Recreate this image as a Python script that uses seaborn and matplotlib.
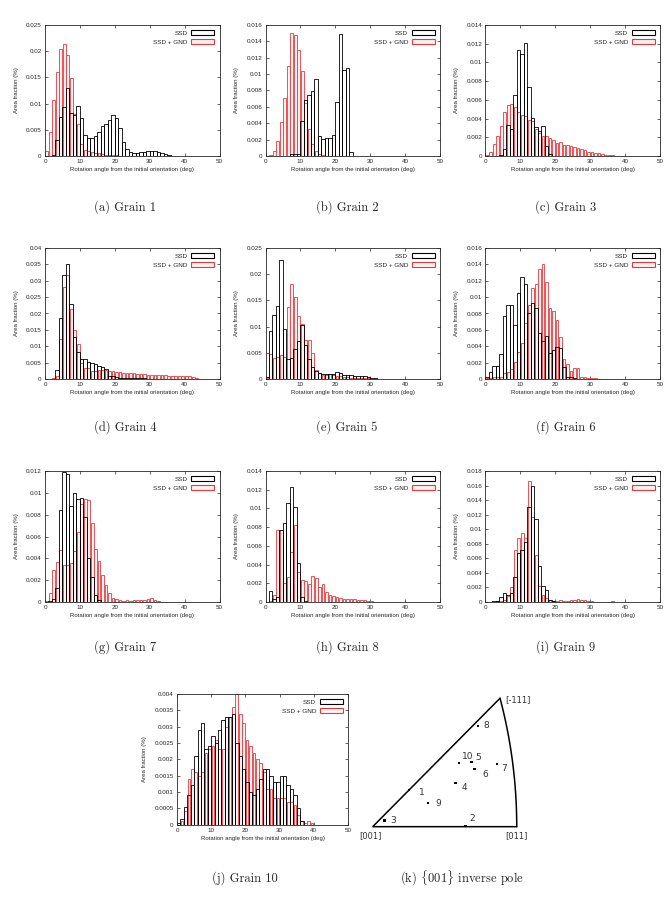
import numpy as np
import pandas as pd
import matplotlib
matplotlib.use('Agg')
import matplotlib.pyplot as plt
from matplotlib.patches import Patch
from matplotlib.ticker import MultipleLocator, FuncFormatter
import seaborn as sns

# 1 degree bins from 0 to 50, area fraction of each bin (trailing bins are zero)
bin_edges = list(range(0, 51))

ssd_g1 = [0, 0, 0.0002, 0.003, 0.0074, 0.0093, 0.013, 0.0082, 0.0078, 0.0095, 0.0072, 0.0041, 0.0034, 0.0034,
          0.0038, 0.0046, 0.0057, 0.0061, 0.0068, 0.0078, 0.0072, 0.0053, 0.0026, 0.0013, 0.0007, 0.0006, 0.0006,
          0.0007, 0.0007, 0.0009, 0.0009, 0.0009, 0.0007, 0.0005, 0.0003, 0.0001]
gnd_g1 = [0.001, 0.0046, 0.0106, 0.0161, 0.0205, 0.0213, 0.0193, 0.0148, 0.008, 0.0062, 0.0023, 0.0012, 0.001,
          0.0008, 0.0006, 0.0005, 0.0003, 0.0002, 0.0001, 0.0001, 0.0001]

ssd_g2 = [0, 0, 0, 0, 0, 0, 0, 0.0003, 0.0002, 0.0003, 0.0043, 0.0068, 0.0074, 0.0079, 0.0094, 0.0025, 0.0021,
          0.0022, 0.0022, 0.0026, 0.0066, 0.0149, 0.0105, 0.0108, 0.0005]
gnd_g2 = [0, 0.0001, 0.0006, 0.0018, 0.0042, 0.0071, 0.011, 0.015, 0.0148, 0.0129, 0.0104, 0.0065, 0.0033,
          0.0015, 0.0006, 0.0002, 0.0001]

ssd_g3 = [0, 0, 0, 0, 0.0001, 0.0008, 0.0033, 0.0029, 0.0065, 0.0113, 0.0109, 0.0121, 0.0074, 0.0041, 0.0031,
          0.0027, 0.0032, 0.0011, 0.0002]
gnd_g3 = [0.0001, 0.0004, 0.0013, 0.0021, 0.0032, 0.0047, 0.0055, 0.0056, 0.0052, 0.0047, 0.0044, 0.0043, 0.0039,
          0.0037, 0.0029, 0.0025, 0.0021, 0.0021, 0.0019, 0.0017, 0.0014, 0.0015, 0.0012, 0.0012, 0.0011, 0.001,
          0.0009, 0.0007, 0.0006, 0.0004, 0.0004, 0.0003, 0.0003, 0.0002, 0.0001, 0.0001, 0.0001, 0.00005]

ssd_g4 = [0, 0, 0.0001, 0.0028, 0.0187, 0.0319, 0.0351, 0.0228, 0.0128, 0.0083, 0.006, 0.0061, 0.0051, 0.005,
          0.0045, 0.0039, 0.0036, 0.003, 0.001, 0.0008, 0.0005, 0.0004, 0.0004, 0.0003, 0.0003, 0.0003, 0.0002,
          0.0002, 0.0002, 0.0001, 0.0001]
gnd_g4 = [0, 0.0001, 0.0003, 0.001, 0.0121, 0.028, 0.0318, 0.0213, 0.0151, 0.0108, 0.005, 0.0034, 0.0034, 0.0025,
          0.0025, 0.0027, 0.0027, 0.0026, 0.0024, 0.0025, 0.0022, 0.002, 0.0018, 0.0018, 0.0019, 0.0019, 0.0016,
          0.0016, 0.0014, 0.0013, 0.0013, 0.0013, 0.0012, 0.0011, 0.0011, 0.001, 0.0009, 0.0009, 0.0008, 0.0008,
          0.0008, 0.0008, 0.0007, 0.0002]

ssd_g5 = [0.0003, 0.0091, 0.0122, 0.0139, 0.0228, 0.0095, 0.0039, 0.004, 0.0057, 0.0072, 0.0104, 0.0064, 0.0038,
          0.0022, 0.0015, 0.0011, 0.0009, 0.001, 0.001, 0.0009, 0.0013, 0.0011, 0.0008, 0.0007, 0.0007, 0.0006,
          0.0005, 0.0006, 0.0005, 0.0004, 0.0002, 0.0001]
gnd_g5 = [0.0002, 0.0048, 0.0041, 0.0042, 0.0045, 0.0042, 0.0137, 0.0182, 0.0156, 0.0121, 0.0105, 0.0074, 0.0075,
          0.0049, 0.0017, 0.0011, 0.0008, 0.0008, 0.0009, 0.0007, 0.0006, 0.0005, 0.0004, 0.0003, 0.0002, 0.0002,
          0.0002, 0.0002, 0.0001, 0.0001]

ssd_g6 = [0.0002, 0.0008, 0.0016, 0.0016, 0.003, 0.0077, 0.009, 0.009, 0.0066, 0.0105, 0.0124, 0.0116, 0.0081,
          0.0093, 0.0087, 0.0056, 0.0047, 0.0053, 0.0032, 0.0036, 0.0039, 0.0038, 0.0015, 0.0003, 0.0002, 0.0001]
gnd_g6 = [0.0001, 0.0001, 0.0003, 0.0003, 0.0003, 0.0007, 0.0009, 0.0012, 0.0021, 0.0033, 0.0044, 0.0068, 0.009,
          0.0111, 0.0116, 0.0134, 0.0141, 0.0118, 0.0087, 0.0083, 0.0072, 0.0051, 0.0024, 0.0018, 0.001, 0.0013,
          0.0013, 0.0003, 0.0002, 0.0001, 0.0001, 0.0001]

ssd_g7 = [0, 0.0001, 0.0003, 0.0013, 0.0084, 0.0119, 0.0117, 0.0088, 0.01, 0.0094, 0.0095, 0.0078, 0.004, 0.0023,
          0.0006, 0.0002]
gnd_g7 = [0.0001, 0.0008, 0.0029, 0.0037, 0.0048, 0.0034, 0.0034, 0.0036, 0.0047, 0.0064, 0.009, 0.0094, 0.0093,
          0.0072, 0.0049, 0.0038, 0.0025, 0.0016, 0.0008, 0.0004, 0.0003, 0.0002, 0.0001, 0.0002, 0.0001, 0.0002,
          0.0002, 0.0002, 0.0002, 0.0003, 0.0004, 0.0002, 0.0001]

ssd_g8 = [0, 0.0012, 0.0003, 0.0005, 0.0077, 0.0084, 0.0106, 0.0123, 0.0102, 0.0042, 0.0005, 0.0001]
gnd_g8 = [0, 0.0001, 0.0007, 0.0077, 0.0077, 0.002, 0.0027, 0.0053, 0.0082, 0.0032, 0.0024, 0.0022, 0.0019,
          0.0028, 0.0026, 0.0016, 0.0019, 0.0011, 0.0007, 0.0006, 0.0005, 0.0004, 0.0003, 0.0003, 0.0003, 0.0003,
          0.0002, 0.0002, 0.0002, 0.0001, 0.0001, 0.00005, 0.00005, 0.00005, 0.00005, 0.00005, 0.00005, 0.00005]

ssd_g9 = [0, 0, 0.0001, 0.0002, 0.0007, 0.0012, 0.001, 0.0012, 0.0034, 0.0068, 0.0072, 0.0082, 0.013, 0.016,
          0.0114, 0.005, 0.0022, 0.0016, 0.0003, 0.0001]
gnd_g9 = [0, 0, 0, 0.0001, 0.0002, 0.0003, 0.0008, 0.002, 0.0072, 0.0088, 0.0095, 0.0088, 0.0166, 0.0117, 0.0064,
          0.0022, 0.001, 0.0005, 0.0003, 0.0002, 0.0001, 0.0003, 0.0002, 0.0002, 0.0003, 0.0003, 0.0004, 0.0003,
          0.0003, 0.0002, 0.0001, 0, 0, 0, 0, 0, 0.0001]

ssd_g10 = [0.00005, 0.00018, 0.00055, 0.0009, 0.0012, 0.0021, 0.0029, 0.0031, 0.0023, 0.0024, 0.0027, 0.0025,
           0.0029, 0.0032, 0.0033, 0.0033, 0.0034, 0.0025, 0.0021, 0.0017, 0.0013, 0.001, 0.0009, 0.0011, 0.0014,
           0.0017, 0.0017, 0.0015, 0.0013, 0.0013, 0.0015, 0.0015, 0.0012, 0.0011, 0.0009, 0.0005, 0.0001]
gnd_g10 = [0, 0.0001, 0.0004, 0.0014, 0.0017, 0.0016, 0.0015, 0.0016, 0.0022, 0.0023, 0.0024, 0.0026, 0.0023,
           0.0023, 0.003, 0.0033, 0.0036, 0.004, 0.0034, 0.0031, 0.0026, 0.0024, 0.0022, 0.002, 0.0019, 0.0016,
           0.0011, 0.0011, 0.0008, 0.0008, 0.0008, 0.0008, 0.0007, 0.0007, 0.0006, 0.0003, 0.0001, 0.00005, 0.0001,
           0.00005]

y_max = [0.025, 0.016, 0.014, 0.04, 0.025, 0.016, 0.012, 0.014, 0.018, 0.004]
y_step = [0.005, 0.002, 0.002, 0.005, 0.005, 0.002, 0.002, 0.002, 0.002, 0.0005]
captions = ['(a) Grain 1', '(b) Grain 2', '(c) Grain 3', '(d) Grain 4', '(e) Grain 5', '(f) Grain 6',
            '(g) Grain 7', '(h) Grain 8', '(i) Grain 9', '(j) Grain 10']

# {001} inverse pole figure: grain positions (unit = [001]-[011] edge length)
pole_labels = ['1', '2', '3', '4', '5', '6', '7', '8', '9', '10']
pole_x = [0.254, 0.643, 0.083, 0.574, 0.685, 0.708, 0.861, 0.729, 0.384, 0.599]
pole_y = [0.255, 0.005, 0.042, 0.303, 0.451, 0.399, 0.435, 0.701, 0.163, 0.444]
pole_offsets = [(7, -1.5), (2.6, 5.3), (4, 0), (4.8, -3.4), (3.1, 2.9), (5.3, -3.6), (3.6, -3.4), (4.1, 0),
                (5, -0.5), (1.9, 4.8)]
corner_labels = ['[001]', '[011]', '[-111]']
corner_x = [0.0, 1.0, 0.884]
corner_y = [0.0, 0.0, 0.892]

ssd_all = [ssd_g1, ssd_g2, ssd_g3, ssd_g4, ssd_g5, ssd_g6, ssd_g7, ssd_g8, ssd_g9, ssd_g10]
gnd_all = [gnd_g1, gnd_g2, gnd_g3, gnd_g4, gnd_g5, gnd_g6, gnd_g7, gnd_g8, gnd_g9, gnd_g10]

sns.set_style('ticks')
plt.rcParams['font.family'] = ['Liberation Sans', 'DejaVu Sans']
plt.rcParams['mathtext.fontset'] = 'cm'

GND_EDGE = '#e83a3e'
GND_FILL = '#fdf1f1'
W, H = 669, 897
CAP_FONT = ['cmr10', 'DejaVu Serif']


def hist_frame(values):
    # one row per 1-degree bin, missing trailing bins are zero
    frac = list(values) + [0.0] * (len(bin_edges) - 1 - len(values))
    return pd.DataFrame({'angle': [e + 0.5 for e in bin_edges[:-1]], 'frac': frac})


def px_axes(fig, left, top, right, bottom):
    return fig.add_axes([left / W, 1 - bottom / H, (right - left) / W, (bottom - top) / H])


def draw_grain(ax, ssd, gnd, ymax, ystep):
    sns.histplot(data=hist_frame(gnd), x='angle', weights='frac', bins=bin_edges, ax=ax, fill=True,
                 shrink=0.8, facecolor=GND_FILL, edgecolor=GND_EDGE, linewidth=0.6)
    sns.histplot(data=hist_frame(ssd), x='angle', weights='frac', bins=bin_edges, ax=ax, fill=False,
                 color='black', linewidth=0.6)
    ax.set_xlim(0, 50)
    ax.set_ylim(0, ymax)
    ax.xaxis.set_major_locator(MultipleLocator(10))
    ax.yaxis.set_major_locator(MultipleLocator(ystep))
    ax.yaxis.set_major_formatter(FuncFormatter(lambda v, p: f'{v:g}'))
    ax.tick_params(direction='in', top=True, right=True, length=2.5, width=0.5, labelsize=4.5, pad=2.5)
    for s in ax.spines.values():
        s.set_linewidth(0.6)
        s.set_visible(True)
    ax.set_xlabel('Rotation angle from the initial orientation (deg)', fontsize=4.3, labelpad=2)
    ax.set_ylabel('Area fraction (%)', fontsize=4.4, labelpad=5)
    handles = [Patch(facecolor='none', edgecolor='black', linewidth=0.8),
               Patch(facecolor=GND_FILL, edgecolor=GND_EDGE, linewidth=0.8)]
    ax.legend(handles, ['SSD', 'SSD + GND'], loc='upper right', frameon=False, markerfirst=False,
              fontsize=4.6, handlelength=3.6, handleheight=0.8, handletextpad=0.6, labelspacing=0.55,
              borderaxespad=0.6, borderpad=0.2)


fig = plt.figure(figsize=(W / 100, H / 100), dpi=100)

col_left = [45, 265.5, 485.5]
row_top = [25, 248, 471]
cap_x = [125, 347, 566]
cap_y = [207, 427, 647]

for i in range(9):
    r, c = divmod(i, 3)
    ax = px_axes(fig, col_left[c], row_top[r], col_left[c] + 174.5, row_top[r] + 131)
    draw_grain(ax, ssd_all[i], gnd_all[i], y_max[i], y_step[i])
    fig.text(cap_x[c] / W, 1 - cap_y[r] / H, captions[i], ha='center', va='center',
             fontsize=9, family=CAP_FONT)

ax10 = px_axes(fig, 177, 694, 348, 824.5)
draw_grain(ax10, ssd_all[9], gnd_all[9], y_max[9], y_step[9])
fig.text(245 / W, 1 - 878 / H, captions[9], ha='center', va='center', fontsize=9, family=CAP_FONT)

# inverse pole figure
axp = px_axes(fig, 358, 688, 548, 848)
axp.set_xlim(-0.102, 1.217)
axp.set_ylim(-0.148, 0.963)
axp.axis('off')
axp.plot([corner_x[1], corner_x[0], corner_x[2]], [corner_y[1], corner_y[0], corner_y[2]],
         color='black', lw=1.1, solid_joinstyle='miter')
# arc between [011] and [-111], circle centred on the [001]-[011] line
cx = (corner_x[2] ** 2 + corner_y[2] ** 2 - corner_x[1] ** 2) / (2 * (corner_x[2] - corner_x[1]))
rad = corner_x[1] - cx
ang = np.linspace(0.0, np.arctan2(corner_y[2], corner_x[2] - cx), 60)
axp.plot(cx + rad * np.cos(ang), rad * np.sin(ang), color='black', lw=1.1)
sns.scatterplot(x=pole_x, y=pole_y, ax=axp, marker='s', s=3, color='black', edgecolor='none', legend=False,
                zorder=3)
for lab, x, y, off in zip(pole_labels, pole_x, pole_y, pole_offsets):
    axp.annotate(lab, (x, y), xytext=off, textcoords='offset points', fontsize=6.5, color='#333333',
                 ha='left', va='center', family='DejaVu Sans')
axp.annotate(corner_labels[0], (corner_x[0], corner_y[0]), xytext=(-1.5, -6.5), textcoords='offset points',
             fontsize=6, ha='center', va='center', color='#333333', family='DejaVu Sans')
axp.annotate(corner_labels[1], (corner_x[1], corner_y[1]), xytext=(0, -6.5), textcoords='offset points',
             fontsize=6, ha='center', va='center', color='#333333', family='DejaVu Sans')
axp.annotate(corner_labels[2], (corner_x[2], corner_y[2]), xytext=(4, -1), textcoords='offset points',
             fontsize=6, ha='left', va='center', color='#333333', family='DejaVu Sans')
fig.text(462 / W, 1 - 878 / H, r'(k) $\{$001$\}$ inverse pole', ha='center', va='center', fontsize=9,
         family=CAP_FONT)

fig.savefig('out.png', dpi=100)
